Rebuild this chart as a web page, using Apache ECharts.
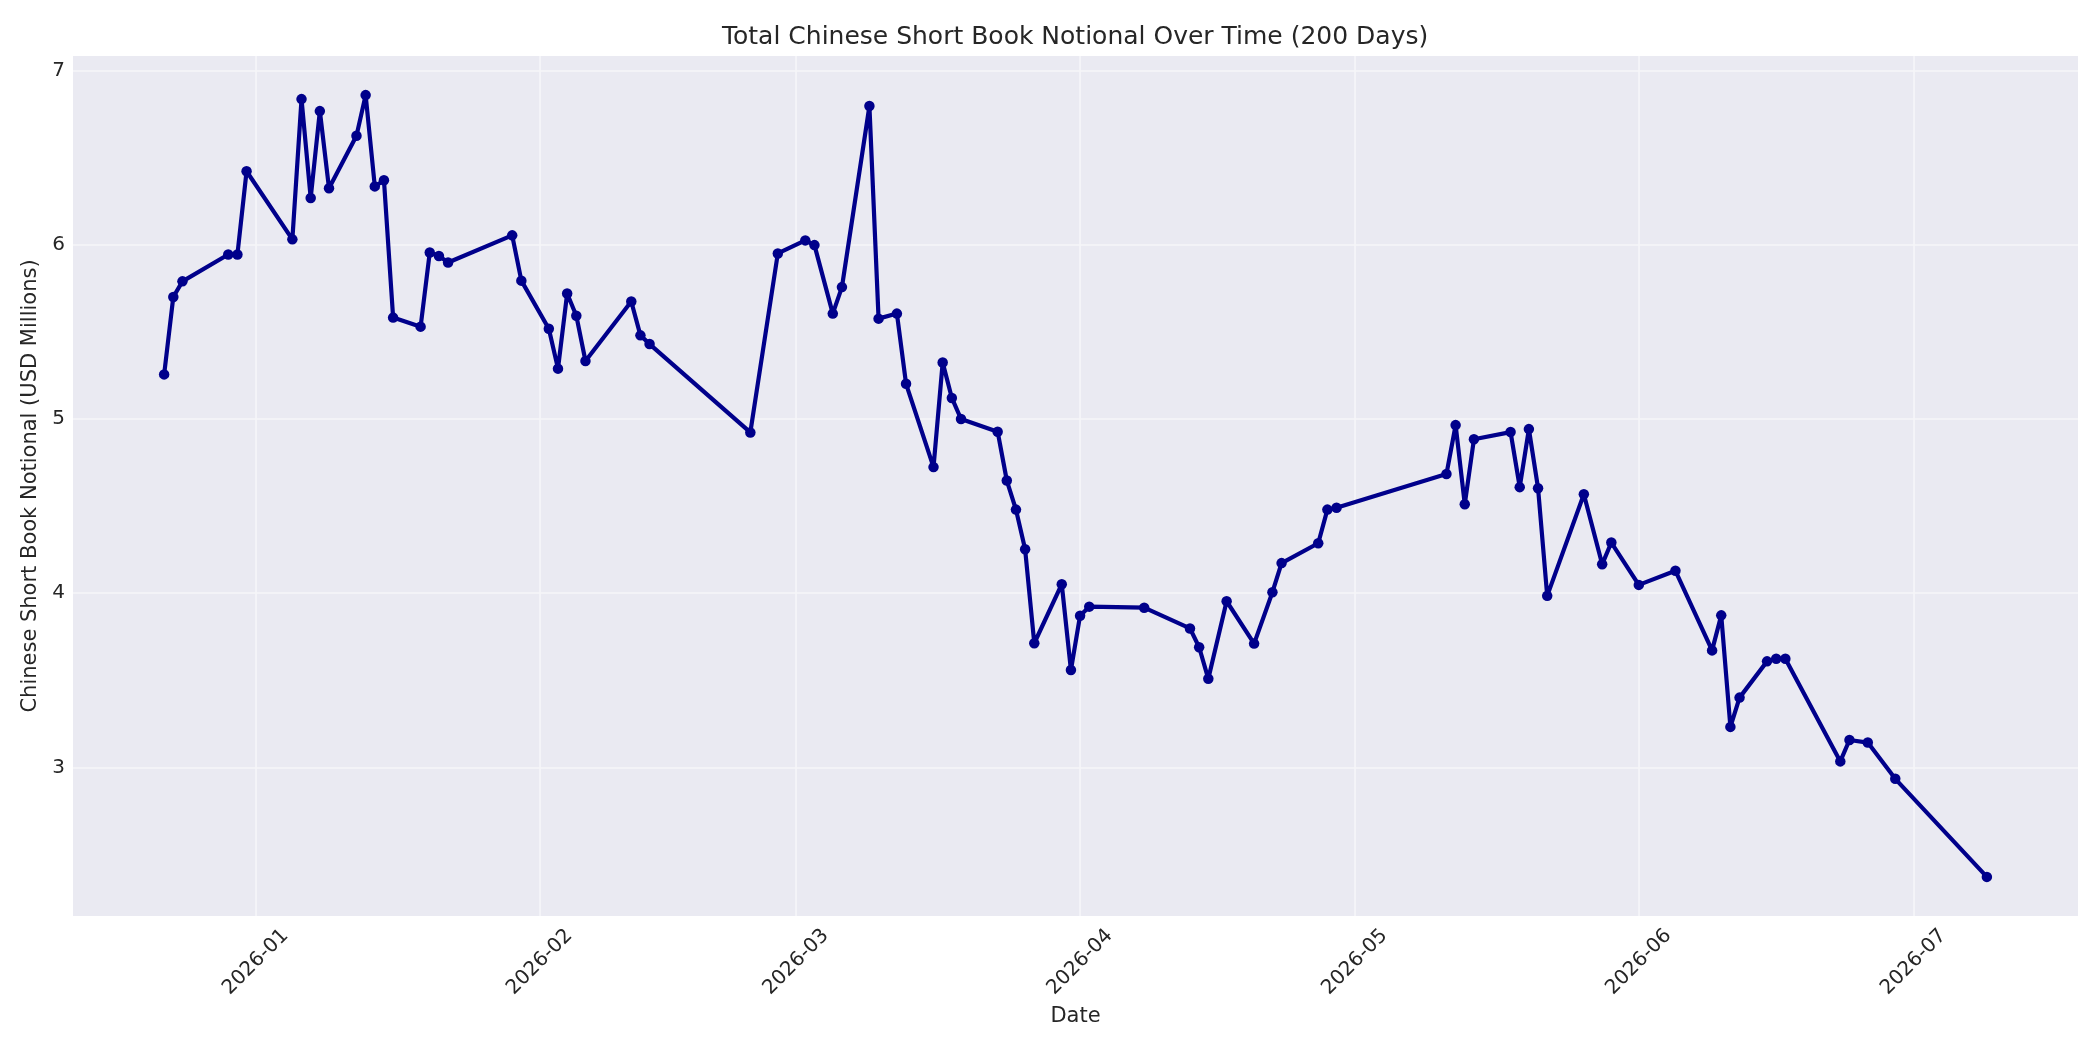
<!DOCTYPE html>
<html>
<head>
<meta charset="utf-8">
<script src="https://cdn.jsdelivr.net/npm/echarts@6/dist/echarts.min.js"></script>
<style>
html,body{margin:0;padding:0;background:#fff}
#chart{width:2100px;height:1050px}
</style>
</head>
<body>
<div id="chart"></div>
<script>
// trading days
var dates = [
    '2025-12-22','2025-12-23','2025-12-24','2025-12-29','2025-12-30','2025-12-31',
    '2026-01-05','2026-01-06','2026-01-07','2026-01-08','2026-01-09','2026-01-12','2026-01-13','2026-01-14',
    '2026-01-15','2026-01-16','2026-01-19','2026-01-20','2026-01-21','2026-01-22','2026-01-29','2026-01-30',
    '2026-02-02','2026-02-03','2026-02-04','2026-02-05','2026-02-06','2026-02-11','2026-02-12','2026-02-13',
    '2026-02-24','2026-02-27',
    '2026-03-02','2026-03-03','2026-03-05','2026-03-06','2026-03-09','2026-03-10','2026-03-12','2026-03-13',
    '2026-03-16','2026-03-17','2026-03-18','2026-03-19','2026-03-23','2026-03-24','2026-03-25','2026-03-26',
    '2026-03-27','2026-03-30','2026-03-31',
    '2026-04-01','2026-04-02','2026-04-08','2026-04-13','2026-04-14','2026-04-15','2026-04-17','2026-04-20',
    '2026-04-22','2026-04-23','2026-04-27','2026-04-28','2026-04-29',
    '2026-05-11','2026-05-12','2026-05-13','2026-05-14','2026-05-18','2026-05-19','2026-05-20','2026-05-21',
    '2026-05-22','2026-05-26','2026-05-28','2026-05-29',
    '2026-06-01','2026-06-05','2026-06-09','2026-06-10','2026-06-11','2026-06-12','2026-06-15','2026-06-16',
    '2026-06-17','2026-06-23','2026-06-24','2026-06-26','2026-06-29',
    '2026-07-09'
]
var notional = [
    5.256, 5.70, 5.79, 5.944, 5.944, 6.422,
    6.031, 6.836, 6.268, 6.767, 6.324, 6.626, 6.859, 6.335,
    6.37, 5.582, 5.53, 5.956, 5.936, 5.898, 6.054, 5.794,
    5.518, 5.289, 5.72, 5.593, 5.333, 5.674, 5.48, 5.43,
    4.923, 5.95,
    6.025, 5.998, 5.605, 5.757, 6.796, 5.576, 5.605, 5.202,
    4.724, 5.324, 5.121, 5.0, 4.927, 4.647, 4.48, 4.252,
    3.713, 4.052, 3.559,
    3.871, 3.923, 3.917, 3.798, 3.69, 3.509, 3.954, 3.711,
    4.006, 4.173, 4.287, 4.48, 4.491,
    4.684, 4.965, 4.511, 4.884, 4.925, 4.609, 4.942, 4.603,
    3.985, 4.568, 4.166, 4.291,
    4.048, 4.129, 3.672, 3.873, 3.233, 3.401, 3.609, 3.624,
    3.624, 3.035, 3.158, 3.143, 2.935,
    2.372
]
var xTicks = ['2026-01','2026-02','2026-03','2026-04','2026-05','2026-06','2026-07']
var yTicks = [3, 4, 5, 6, 7]

var textColor = '#262626'
var font = 'DejaVu Sans'

var toTime = function(s){
    var p = s.split('-')
    return Date.UTC(+p[0], +p[1] - 1, p[2] ? +p[2] : 1)
}

// matplotlib style 5% margins
var t0 = toTime(dates[0]), t1 = toTime(dates[dates.length - 1])
var xPad = (t1 - t0) * 0.05
var vMin = Math.min.apply(null, notional), vMax = Math.max.apply(null, notional)
var yPad = (vMax - vMin) * 0.05

var seriesData = []
for (var i = 0; i < dates.length; i++) {
    seriesData.push([toTime(dates[i]), notional[i]])
}
var monthTimes = xTicks.map(toTime)

var myChart = echarts.init(document.getElementById('chart'), null, {renderer: 'canvas'})
var option = {
    animation: false,
    backgroundColor: '#ffffff',
    useUTC: true,
    textStyle: {fontFamily: font, color: textColor},
    title: {
        text: 'Total Chinese Short Book Notional Over Time (200 Days)',
        left: 717,
        top: 20,
        textStyle: {fontFamily: font, fontSize: 25, fontWeight: 'normal', color: textColor}
    },
    grid: {
        left: 73, right: 22, top: 56, bottom: 134,
        show: true, backgroundColor: '#EAEAF2', borderWidth: 0
    },
    xAxis: {
        type: 'time',
        min: t0 - xPad,
        max: t1 + xPad,
        name: 'Date',
        nameLocation: 'middle',
        nameGap: 88,
        nameTextStyle: {fontFamily: font, fontSize: 21, color: textColor},
        axisLine: {show: false},
        axisTick: {show: false},
        splitLine: {show: false},
        axisLabel: {
            customValues: monthTimes,
            formatter: '{yyyy}-{MM}',
            rotate: 45,
            align: 'center',
            verticalAlign: 'middle',
            margin: 46,
            fontSize: 20,
            color: textColor,
            fontFamily: font,
            hideOverlap: false
        }
    },
    yAxis: {
        type: 'value',
        min: vMin - yPad,
        max: vMax + yPad,
        name: 'Chinese Short Book Notional (USD Millions)',
        nameLocation: 'middle',
        nameGap: 32,
        nameTextStyle: {fontFamily: font, fontSize: 21, color: textColor},
        axisLine: {show: false},
        axisTick: {show: false},
        splitLine: {show: false},
        axisLabel: {
            customValues: yTicks,
            formatter: function(v){ return String(Math.round(v)) },
            margin: 8,
            fontSize: 20,
            color: textColor,
            fontFamily: font
        }
    },
    series: [
        {
            // grid lines at the tick positions, kept under the data
            type: 'line',
            data: [],
            z: 1,
            silent: true,
            markLine: {
                z: 1,
                silent: true,
                symbol: 'none',
                label: {show: false},
                lineStyle: {color: '#f6f6f9', width: 1.6, type: 'solid'},
                data: monthTimes.map(function(t){ return {xAxis: t} })
                    .concat(yTicks.map(function(v){ return {yAxis: v} }))
            }
        },
        {
            type: 'line',
            data: seriesData,
            z: 6,
            symbol: 'circle',
            symbolSize: 10.5,
            showSymbol: true,
            lineStyle: {color: '#00008B', width: 4.2},
            itemStyle: {color: '#00008B', borderWidth: 0}
        }
    ]
}
myChart.setOption(option)
</script>
</body>
</html>
